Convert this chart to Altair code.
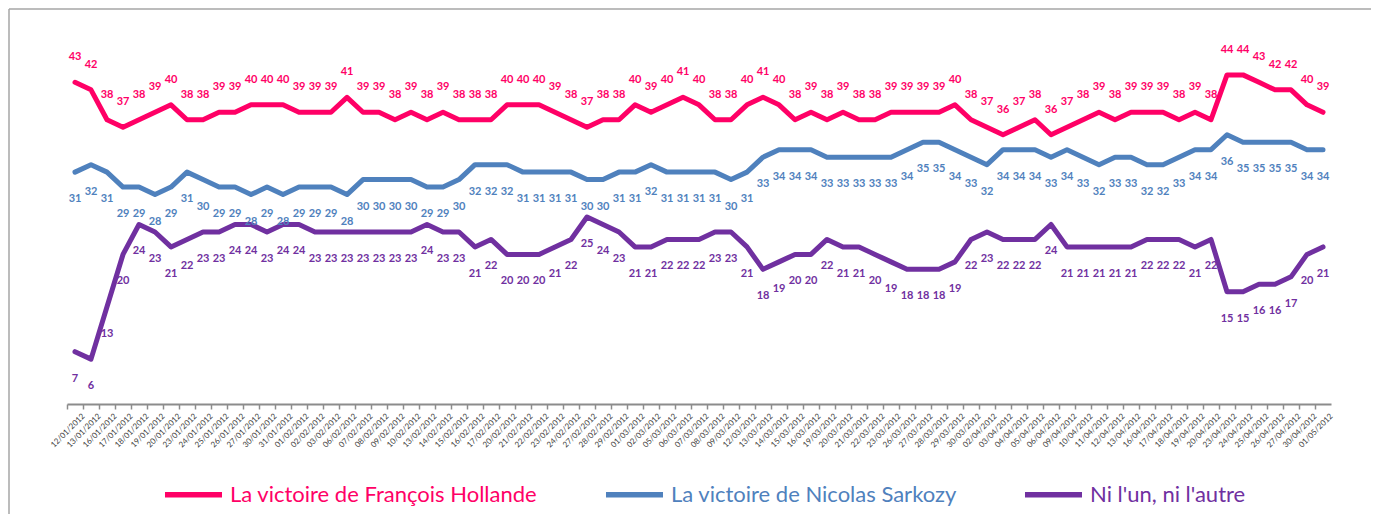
import altair as alt
import pandas as pd

dates = ["12/01/2012","13/01/2012","16/01/2012","17/01/2012","18/01/2012","19/01/2012","20/01/2012",
         "23/01/2012","24/01/2012","25/01/2012","26/01/2012","27/01/2012","30/01/2012","31/01/2012",
         "01/02/2012","02/02/2012","03/02/2012","06/02/2012","07/02/2012","08/02/2012","09/02/2012",
         "10/02/2012","13/02/2012","14/02/2012","15/02/2012","16/02/2012","17/02/2012","20/02/2012",
         "21/02/2012","22/02/2012","23/02/2012","24/02/2012","27/02/2012","28/02/2012","29/02/2012",
         "01/03/2012","02/03/2012","05/03/2012","06/03/2012","07/03/2012","08/03/2012","09/03/2012",
         "12/03/2012","13/03/2012","14/03/2012","15/03/2012","16/03/2012","19/03/2012","20/03/2012",
         "21/03/2012","22/03/2012","23/03/2012","26/03/2012","27/03/2012","28/03/2012","29/03/2012",
         "30/03/2012","02/04/2012","03/04/2012","04/04/2012","05/04/2012","06/04/2012","09/04/2012",
         "10/04/2012","11/04/2012","12/04/2012","13/04/2012","16/04/2012","17/04/2012","18/04/2012",
         "19/04/2012","20/04/2012","23/04/2012","24/04/2012","25/04/2012","26/04/2012","27/04/2012",
         "30/04/2012","01/05/2012"]

hollande = [43,42,38,37,38,39,40,38,38,39,39,40,40,40,39,39,39,41,39,39,38,39,38,39,38,38,38,
            40,40,40,39,38,37,38,38,40,39,40,41,40,38,38,40,41,40,38,39,38,39,38,38,39,39,39,39,40,
            38,37,36,37,38,36,37,38,39,38,39,39,39,38,39,38,44,44,43,42,42,40,39]
sarkozy = [31,32,31,29,29,28,29,31,30,29,29,28,29,28,29,29,29,28,30,30,30,30,29,29,30,32,32,
           32,31,31,31,31,30,30,31,31,32,31,31,31,31,30,31,33,34,34,34,33,33,33,33,33,34,35,35,34,
           33,32,34,34,34,33,34,33,32,33,33,32,32,33,34,34,36,35,35,35,35,34,34]
ni = [7,6,13,20,24,23,21,22,23,23,24,24,23,24,24,23,23,23,23,23,23,23,24,23,23,21,22,
      20,20,20,21,22,25,24,23,21,21,22,22,22,23,23,21,18,19,20,20,22,21,21,20,19,18,18,18,19,
      22,23,22,22,22,24,21,21,21,21,21,22,22,22,21,22,15,15,16,16,17,20,21]

series_names = ["La victoire de François Hollande", "La victoire de Nicolas Sarkozy", "Ni l'un, ni l'autre"]
colors = ["#FF0066", "#4F81BD", "#7030A0"]
label_dy = [-25, 27, 27]

rows = []
for name, vals in zip(series_names, [hollande, sarkozy, ni]):
    for d, v in zip(dates, vals):
        rows.append({"date": d, "serie": name, "value": v})
df = pd.DataFrame(rows)

x_enc = alt.X("date:N", sort=dates, bandPosition=0.5,
              scale=alt.Scale(type="band", paddingInner=0, paddingOuter=0),
              axis=alt.Axis(title=None, labelAngle=-45, labelFont="Lato", labelFontSize=8,
                            labelColor="#404040", labelOverlap=False, labelFlush=False,
                            labelBound=False, labelPadding=3, labelOffset=6,
                            domainColor="#8C8C8C", domainWidth=2, tickColor="#8C8C8C",
                            tickWidth=1.5, tickSize=5, bandPosition=0))
y_enc = alt.Y("value:Q", scale=alt.Scale(domain=[0, 50], nice=False, zero=True), axis=None)
color_scale = alt.Scale(domain=series_names, range=colors)

legend = alt.Legend(orient="none", legendX=95, legendY=433, direction="horizontal", columns=3,
                    title=None, symbolType="stroke", symbolStrokeWidth=5.5, symbolSize=3250,
                    labelFont="Lato", labelFontSize=22, labelOffset=5, columnPadding=56,
                    labelLimit=0, padding=0,
                    labelColor=alt.ExprRef("['#FF0066','#4F81BD','#7030A0'][datum.index]"))

base = alt.Chart(df)
line = base.mark_line(strokeWidth=5, strokeCap="round", strokeJoin="round").encode(
    x=x_enc, y=y_enc,
    color=alt.Color("serie:N", scale=color_scale, legend=legend, sort=series_names))

texts = []
for name, dy in zip(series_names, label_dy):
    texts.append(base.transform_filter(alt.datum.serie == name).mark_text(
        font="Lato", fontSize=11, fontWeight="bold", dy=dy).encode(
        x=x_enc, y=y_enc, text="value:Q",
        color=alt.Color("serie:N", scale=color_scale, legend=None)))

frame = pd.DataFrame({"k": [0]})
top_border = alt.Chart(frame).mark_rule(color="#A6A6A6", strokeWidth=1.5).encode(
    x=alt.value(-58), x2=alt.value(1320), y=alt.value(-21))
left_border = alt.Chart(frame).mark_rule(color="#A6A6A6", strokeWidth=1.5).encode(
    x=alt.value(-58), y=alt.value(-21), y2=alt.value(495))

chart = alt.layer(top_border, left_border, line, *texts).properties(
    width=1264, height=374,
    padding={"left": 59, "top": 22, "right": 40, "bottom": 110},
    autosize=alt.AutoSizeParams(type="none"),
).configure_view(stroke=None)

chart.save("out.html", embed_options={"renderer": "svg", "actions": False})
